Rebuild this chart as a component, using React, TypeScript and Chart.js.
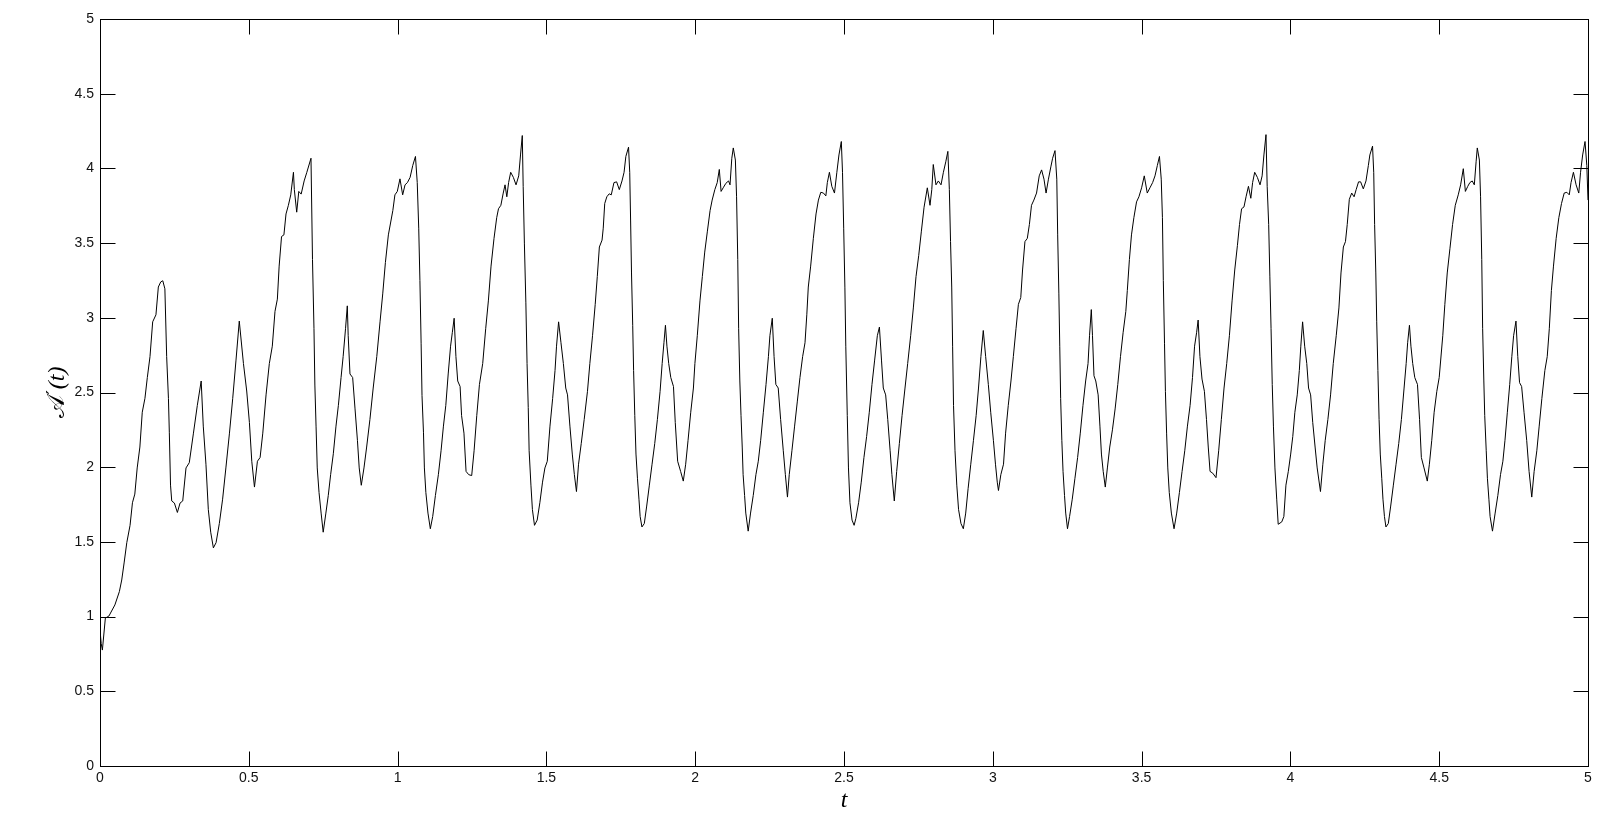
import React, { useEffect, useRef } from "react";
import { Chart, registerables } from "chart.js";

Chart.register(...registerables);

// time axis range and tick values
const tMin = 0;
const tMax = 5;
const aMin = 0;
const aMax = 5;
const tickValues = [0, 0.5, 1, 1.5, 2, 2.5, 3, 3.5, 4, 4.5, 5];

// samples of A'(t): [t, value]
const samples: [number, number][] = [
  [0, 0.91], [0.004, 0.82], [0.008, 0.776], [0.018, 0.99], [0.03, 1.004], [0.05, 1.078], [0.065, 1.167], [0.073, 1.245],
  [0.081, 1.359], [0.09, 1.495], [0.101, 1.611], [0.109, 1.762], [0.117, 1.82], [0.125, 1.995], [0.134, 2.135], [0.142, 2.368],
  [0.151, 2.461], [0.159, 2.6], [0.168, 2.74], [0.177, 2.973], [0.188, 3.02], [0.196, 3.206], [0.204, 3.24], [0.211, 3.248],
  [0.218, 3.194], [0.224, 2.74], [0.23, 2.46], [0.233, 2.23], [0.237, 1.88], [0.241, 1.774], [0.25, 1.76], [0.26, 1.697],
  [0.269, 1.76], [0.278, 1.774], [0.289, 1.995], [0.3, 2.03], [0.314, 2.228], [0.327, 2.414], [0.34, 2.577], [0.347, 2.275],
  [0.356, 2.02], [0.364, 1.716], [0.372, 1.565], [0.381, 1.46], [0.39, 1.495], [0.401, 1.623], [0.412, 1.786], [0.423, 1.995],
  [0.435, 2.228], [0.446, 2.461], [0.457, 2.717], [0.468, 2.978],
  [0.482, 2.694], [0.493, 2.51], [0.502, 2.3], [0.51, 2.04], [0.519, 1.867], [0.529, 2.04], [0.538, 2.065], [0.547, 2.228],
  [0.558, 2.484], [0.569, 2.694], [0.579, 2.81], [0.588, 3.043], [0.596, 3.125], [0.602, 3.346], [0.61, 3.544], [0.618, 3.555],
  [0.625, 3.695], [0.633, 3.753], [0.641, 3.823], [0.65, 3.974], [0.653, 3.858], [0.661, 3.707], [0.668, 3.846], [0.676, 3.828],
  [0.686, 3.916], [0.695, 3.974], [0.709, 4.068], [0.714, 3.39], [0.719, 2.927], [0.722, 2.55], [0.726, 2.275], [0.73, 1.995],
  [0.736, 1.83], [0.743, 1.693], [0.75, 1.565], [0.759, 1.693], [0.767, 1.81], [0.775, 1.95], [0.784, 2.09], [0.793, 2.275],
  [0.801, 2.414], [0.81, 2.6], [0.817, 2.74], [0.825, 2.927], [0.831, 3.08], [0.834, 2.88], [0.84, 2.624], [0.849, 2.6],
  [0.857, 2.39], [0.865, 2.18], [0.871, 1.995], [0.878, 1.879], [0.887, 1.995], [0.896, 2.135], [0.907, 2.32], [0.918, 2.53],
  [0.93, 2.74], [0.941, 2.973], [0.95, 3.16], [0.959, 3.37], [0.969, 3.555],
  [0.984, 3.718], [0.991, 3.823], [0.999, 3.846], [1.008, 3.93], [1.017, 3.823], [1.025, 3.89], [1.033, 3.905], [1.042, 3.94],
  [1.051, 4.02], [1.06, 4.08], [1.066, 3.905], [1.071, 3.6], [1.075, 3.25], [1.079, 2.83], [1.082, 2.48], [1.087, 2.23],
  [1.09, 1.995], [1.095, 1.83], [1.102, 1.693], [1.11, 1.588], [1.118, 1.67], [1.127, 1.81], [1.137, 1.95], [1.146, 2.11],
  [1.154, 2.275], [1.162, 2.414], [1.17, 2.624], [1.178, 2.81], [1.184, 2.903], [1.19, 2.997], [1.196, 2.74], [1.202, 2.577],
  [1.21, 2.54], [1.215, 2.345], [1.223, 2.228], [1.23, 1.972], [1.239, 1.95], [1.249, 1.944], [1.257, 2.11], [1.266, 2.345],
  [1.275, 2.554], [1.286, 2.694], [1.296, 2.927], [1.305, 3.113], [1.314, 3.346], [1.324, 3.532], [1.333, 3.67], [1.339, 3.73],
  [1.347, 3.753], [1.355, 3.835], [1.361, 3.89], [1.367, 3.81], [1.373, 3.905], [1.38, 3.974], [1.389, 3.94], [1.398, 3.89],
  [1.407, 3.95], [1.413, 4.09], [1.419, 4.22], [1.422, 3.88], [1.426, 3.5], [1.431, 3.1], [1.435, 2.694], [1.439, 2.4],
  [1.442, 2.11], [1.448, 1.88], [1.453, 1.716], [1.46, 1.611], [1.469, 1.646],
  [1.478, 1.762], [1.487, 1.9], [1.495, 1.995], [1.503, 2.04], [1.512, 2.275], [1.521, 2.46], [1.529, 2.647], [1.534, 2.81],
  [1.541, 2.973], [1.549, 2.833], [1.557, 2.694], [1.565, 2.53], [1.571, 2.484], [1.579, 2.275], [1.587, 2.088], [1.594, 1.95],
  [1.601, 1.837], [1.608, 2.02], [1.617, 2.158], [1.627, 2.32], [1.638, 2.508], [1.646, 2.694], [1.655, 2.88], [1.664, 3.09],
  [1.671, 3.276], [1.678, 3.474], [1.687, 3.52], [1.691, 3.6], [1.696, 3.765], [1.703, 3.81], [1.711, 3.83], [1.718, 3.823],
  [1.727, 3.905], [1.736, 3.91], [1.745, 3.858], [1.754, 3.916], [1.761, 3.974], [1.767, 4.08], [1.776, 4.142], [1.78, 3.974],
  [1.783, 3.648], [1.786, 3.3], [1.79, 2.95], [1.793, 2.647], [1.797, 2.345], [1.801, 2.088], [1.806, 1.926], [1.811, 1.786],
  [1.815, 1.67], [1.821, 1.6], [1.829, 1.623], [1.837, 1.74], [1.846, 1.88], [1.855, 2.02], [1.864, 2.158], [1.873, 2.32],
  [1.882, 2.508], [1.889, 2.694], [1.895, 2.833], [1.9, 2.95], [1.905, 2.81], [1.911, 2.694], [1.918, 2.6], [1.927, 2.54],
  [1.933, 2.3], [1.941, 2.04], [1.951, 1.972], [1.96, 1.907], [1.968, 2.02], [1.976, 2.18], [1.985, 2.368], [1.994, 2.53],
  [1.999, 2.694], [2.007, 2.88], [2.016, 3.113], [2.024, 3.276], [2.032, 3.44], [2.041, 3.58], [2.05, 3.718], [2.057, 3.788],
  [2.066, 3.858], [2.074, 3.905], [2.081, 3.993], [2.087, 3.846], [2.094, 3.87], [2.103, 3.9], [2.112, 3.916], [2.117, 3.89],
  [2.123, 4.068], [2.128, 4.137], [2.135, 4.056], [2.139, 3.81], [2.143, 3.39], [2.146, 2.927], [2.15, 2.577], [2.154, 2.345],
  [2.158, 2.135], [2.161, 1.95], [2.166, 1.81], [2.17, 1.693], [2.178, 1.572], [2.186, 1.693], [2.195, 1.81], [2.204, 1.95],
  [2.212, 2.04], [2.22, 2.18], [2.229, 2.368], [2.238, 2.554], [2.246, 2.74], [2.251, 2.88], [2.259, 2.997], [2.265, 2.74],
  [2.271, 2.554], [2.279, 2.53], [2.287, 2.32], [2.296, 2.11], [2.303, 1.95], [2.31, 1.8], [2.316, 1.95], [2.325, 2.11],
  [2.334, 2.275], [2.343, 2.437], [2.352, 2.6], [2.361, 2.74], [2.369, 2.833], [2.375, 3.02], [2.38, 3.206], [2.388, 3.346],
  [2.397, 3.532], [2.406, 3.695], [2.414, 3.788], [2.422, 3.84], [2.431, 3.835], [2.439, 3.816], [2.444, 3.905], [2.451, 3.974],
  [2.459, 3.88], [2.468, 3.835], [2.476, 3.974], [2.483, 4.09], [2.491, 4.18], [2.495, 3.974], [2.499, 3.6], [2.503, 3.2],
  [2.506, 2.81], [2.511, 2.345], [2.515, 1.995],
  [2.52, 1.762], [2.527, 1.646], [2.534, 1.611], [2.54, 1.658], [2.549, 1.762], [2.558, 1.9], [2.567, 2.065], [2.576, 2.205],
  [2.585, 2.368], [2.594, 2.554], [2.603, 2.717], [2.612, 2.88], [2.619, 2.938], [2.626, 2.717], [2.632, 2.53], [2.64, 2.484],
  [2.647, 2.32], [2.655, 2.11], [2.661, 1.95], [2.669, 1.774], [2.677, 1.972], [2.686, 2.158], [2.695, 2.345], [2.705, 2.53],
  [2.714, 2.694], [2.724, 2.88], [2.733, 3.066], [2.742, 3.276], [2.751, 3.416], [2.76, 3.58], [2.769, 3.74], [2.78, 3.87],
  [2.789, 3.753], [2.795, 3.858], [2.8, 4.026], [2.809, 3.89], [2.817, 3.916], [2.826, 3.89], [2.834, 3.974], [2.842, 4.044],
  [2.849, 4.114], [2.854, 3.858], [2.858, 3.51], [2.862, 3.206], [2.865, 2.81], [2.868, 2.414], [2.873, 2.11], [2.879, 1.88],
  [2.885, 1.716], [2.893, 1.623], [2.901, 1.588], [2.909, 1.693], [2.917, 1.856], [2.926, 2.02], [2.935, 2.18], [2.944, 2.345],
  [2.952, 2.53], [2.96, 2.74], [2.968, 2.915], [2.976, 2.74], [2.985, 2.554], [2.993, 2.368], [3.002, 2.18], [3.009, 2.02],
  [3.015, 1.9],
  [3.019, 1.844], [3.027, 1.95], [3.036, 2.02], [3.043, 2.228], [3.052, 2.414], [3.061, 2.577], [3.069, 2.74], [3.078, 2.927],
  [3.086, 3.09], [3.094, 3.136], [3.1, 3.32], [3.108, 3.51], [3.116, 3.532], [3.123, 3.625], [3.13, 3.753], [3.138, 3.788],
  [3.147, 3.835], [3.156, 3.95], [3.164, 3.99], [3.172, 3.928], [3.179, 3.835], [3.187, 3.928], [3.195, 4.01], [3.201, 4.068],
  [3.209, 4.119], [3.215, 3.928], [3.218, 3.555], [3.222, 3.16], [3.225, 2.81], [3.228, 2.46], [3.232, 2.18], [3.236, 1.972],
  [3.241, 1.81], [3.245, 1.693], [3.251, 1.588], [3.258, 1.67], [3.267, 1.786], [3.276, 1.926], [3.285, 2.065], [3.294, 2.228],
  [3.303, 2.414], [3.312, 2.577], [3.32, 2.694], [3.325, 2.88], [3.331, 3.055], [3.335, 2.88], [3.34, 2.612], [3.346, 2.577],
  [3.354, 2.484], [3.36, 2.275], [3.365, 2.088], [3.371, 1.972], [3.378, 1.867], [3.385, 1.995], [3.393, 2.135], [3.402, 2.25],
  [3.411, 2.39], [3.42, 2.554], [3.429, 2.74], [3.438, 2.903], [3.447, 3.043], [3.452, 3.183], [3.459, 3.39], [3.466, 3.555],
  [3.474, 3.67], [3.483, 3.776], [3.491, 3.81], [3.5, 3.87],
  [3.509, 3.95], [3.519, 3.835], [3.528, 3.87], [3.537, 3.905], [3.545, 3.95], [3.553, 4.02], [3.56, 4.08], [3.566, 3.928],
  [3.57, 3.67], [3.573, 3.25], [3.577, 2.83], [3.58, 2.508], [3.584, 2.228], [3.588, 1.995], [3.593, 1.83], [3.6, 1.693],
  [3.609, 1.588], [3.618, 1.693], [3.627, 1.83], [3.636, 1.972], [3.645, 2.11], [3.654, 2.275], [3.663, 2.414], [3.671, 2.6],
  [3.678, 2.81], [3.685, 2.903], [3.69, 2.985], [3.696, 2.74], [3.703, 2.59], [3.711, 2.508], [3.718, 2.32], [3.724, 2.135],
  [3.73, 1.972], [3.739, 1.96], [3.75, 1.93], [3.759, 2.11], [3.768, 2.32], [3.777, 2.53], [3.786, 2.694], [3.795, 2.88],
  [3.804, 3.113], [3.813, 3.32], [3.822, 3.485], [3.829, 3.625], [3.836, 3.73], [3.844, 3.742], [3.851, 3.81], [3.859, 3.88],
  [3.867, 3.8], [3.873, 3.905], [3.88, 3.974], [3.889, 3.94], [3.898, 3.89], [3.905, 3.95], [3.911, 4.09], [3.918, 4.226],
  [3.922, 3.88], [3.927, 3.625], [3.931, 3.274], [3.935, 2.927], [3.939, 2.554], [3.943, 2.275], [3.948, 1.995], [3.954, 1.786],
  [3.959, 1.618], [3.971, 1.634], [3.978, 1.67], [3.985, 1.88], [3.993, 1.972], [4.001, 2.088],
  [4.008, 2.205], [4.015, 2.368], [4.023, 2.484], [4.03, 2.647], [4.035, 2.81], [4.041, 2.973], [4.048, 2.81], [4.055, 2.694],
  [4.061, 2.53], [4.068, 2.484], [4.075, 2.3], [4.083, 2.135], [4.09, 1.995], [4.101, 1.837], [4.109, 2.02], [4.117, 2.18],
  [4.126, 2.32], [4.135, 2.484], [4.144, 2.694], [4.154, 2.88], [4.163, 3.066], [4.17, 3.3], [4.178, 3.474], [4.185, 3.51],
  [4.191, 3.625], [4.198, 3.793], [4.206, 3.835], [4.214, 3.81], [4.221, 3.858], [4.229, 3.91], [4.236, 3.91], [4.245, 3.863],
  [4.254, 3.916], [4.262, 4.02], [4.267, 4.09], [4.276, 4.149], [4.28, 3.974], [4.283, 3.625], [4.287, 3.3], [4.29, 2.973],
  [4.294, 2.647], [4.298, 2.32], [4.302, 2.088], [4.307, 1.926], [4.311, 1.786], [4.316, 1.67], [4.321, 1.6], [4.329, 1.623],
  [4.337, 1.74], [4.346, 1.88], [4.355, 2.02], [4.364, 2.158], [4.373, 2.32], [4.382, 2.53], [4.389, 2.694], [4.394, 2.833],
  [4.4, 2.95], [4.405, 2.81], [4.411, 2.694], [4.418, 2.6], [4.427, 2.554], [4.434, 2.32], [4.44, 2.065], [4.449, 1.995],
  [4.46, 1.907], [4.467, 2.02], [4.475, 2.18], [4.483, 2.368], [4.492, 2.508], [4.5, 2.6],
  [4.512, 2.88], [4.519, 3.09], [4.527, 3.3], [4.536, 3.462], [4.545, 3.625], [4.554, 3.753], [4.564, 3.823], [4.572, 3.89],
  [4.581, 3.998], [4.588, 3.846], [4.596, 3.88], [4.603, 3.905], [4.611, 3.916], [4.618, 3.89], [4.624, 4.044], [4.628, 4.137],
  [4.635, 4.056], [4.639, 3.81], [4.643, 3.39], [4.646, 2.927], [4.65, 2.577], [4.653, 2.345], [4.658, 2.11], [4.662, 1.926],
  [4.667, 1.786], [4.671, 1.67], [4.679, 1.572], [4.688, 1.693], [4.697, 1.81], [4.706, 1.95], [4.714, 2.04], [4.721, 2.18],
  [4.729, 2.368], [4.737, 2.554], [4.744, 2.74], [4.75, 2.88], [4.758, 2.978], [4.764, 2.74], [4.77, 2.566], [4.777, 2.54],
  [4.785, 2.368], [4.794, 2.18], [4.802, 1.972], [4.811, 1.8], [4.819, 1.972], [4.828, 2.11], [4.836, 2.275], [4.845, 2.46],
  [4.855, 2.647], [4.863, 2.74], [4.87, 2.927], [4.877, 3.183], [4.884, 3.346], [4.893, 3.532], [4.902, 3.67], [4.911, 3.765],
  [4.92, 3.835], [4.929, 3.84], [4.937, 3.823], [4.943, 3.905], [4.951, 3.974], [4.96, 3.89], [4.969, 3.835], [4.975, 3.974],
  [4.982, 4.09], [4.99, 4.18], [4.996, 4.02], [5.0, 3.788],
];

const xTitle = "t";
// y-axis title pieces: calligraphic A, prime, argument
const yTitleLetter = "\u{1D49C}";
const yTitlePrime = "\u2032";
const yTitleArg = "(t)";

const TICK_LEN = 15;

const matlabBox = {
  id: "matlabBox",
  afterDraw(chart: any) {
    const { ctx, chartArea: a, scales } = chart;
    ctx.save();
    ctx.strokeStyle = "#000";
    ctx.lineWidth = 1;
    const L = Math.round(a.left) + 0.5;
    const R = Math.round(a.right) + 0.5;
    const T = Math.round(a.top) + 0.5;
    const B = Math.round(a.bottom) + 0.5;
    ctx.strokeRect(L, T, R - L, B - T);
    ctx.beginPath();
    for (const v of tickValues) {
      const y = Math.round(scales.y.getPixelForValue(v)) + 0.5;
      ctx.moveTo(L, y);
      ctx.lineTo(L + TICK_LEN, y);
      ctx.moveTo(R, y);
      ctx.lineTo(R - TICK_LEN, y);
      const x = Math.round(scales.x.getPixelForValue(v)) + 0.5;
      ctx.moveTo(x, B);
      ctx.lineTo(x, B - TICK_LEN);
      ctx.moveTo(x, T);
      ctx.lineTo(x, T + TICK_LEN);
    }
    ctx.stroke();

    // y-axis title, rotated, composed of pieces
    const cy = (a.top + a.bottom) / 2;
    ctx.translate(56, cy);
    ctx.rotate(-Math.PI / 2);
    ctx.fillStyle = "#000";
    ctx.textBaseline = "alphabetic";
    ctx.textAlign = "left";
    const fLetter = '24px "DejaVu Sans", "DejaVu Serif", serif';
    const fPrime = '18px "DejaVu Sans", serif';
    const fArg = 'italic 24px "Liberation Serif", "DejaVu Serif", serif';
    ctx.font = fLetter;
    const w1 = ctx.measureText(yTitleLetter).width;
    ctx.font = fPrime;
    const w2 = ctx.measureText(yTitlePrime).width;
    ctx.font = fArg;
    const w3 = ctx.measureText(yTitleArg).width;
    const total = w1 + w2 + w3 + 2;
    let x = -total / 2;
    const base = 8;
    ctx.font = fLetter;
    ctx.fillText(yTitleLetter, x, base);
    x += w1 + 1;
    ctx.font = fPrime;
    ctx.fillText(yTitlePrime, x, base - 5);
    x += w2 + 1;
    ctx.font = fArg;
    ctx.fillText(yTitleArg, x, base);
    ctx.restore();
  },
};

const fmt = (v: number | string) => String(Math.round(Number(v) * 10) / 10);

export default function App() {
  const ref = useRef<HTMLCanvasElement>(null);
  useEffect(() => {
    document.body.style.margin = "0";
    const tickFont = { family: '"Liberation Sans", Arial, sans-serif', size: 14 };
    const chart = new Chart(ref.current!, {
      type: "line",
      data: {
        datasets: [
          {
            data: samples.map(([x, y]) => ({ x, y })),
            borderColor: "#000",
            borderWidth: 1,
            pointRadius: 0,
            tension: 0,
            fill: false,
          },
        ],
      },
      options: {
        animation: false,
        responsive: false,
        devicePixelRatio: 1,
        layout: { padding: { left: 0, right: 32, top: 19, bottom: 0 } },
        plugins: { legend: { display: false }, tooltip: { enabled: false } },
        scales: {
          x: {
            type: "linear",
            min: tMin,
            max: tMax,
            border: { display: false },
            grid: { display: false, drawTicks: false },
            ticks: { stepSize: 0.5, color: "#111", font: tickFont, padding: 4, maxRotation: 0, autoSkip: false, callback: fmt },
            title: {
              display: true,
              text: xTitle,
              color: "#000",
              font: { family: '"Liberation Serif", "DejaVu Serif", serif', style: "italic", size: 24 },
              padding: { top: 0, bottom: 2 },
            },
            afterFit(s: any) {
              s.height = 51;
            },
          },
          y: {
            type: "linear",
            min: aMin,
            max: aMax,
            border: { display: false },
            grid: { display: false, drawTicks: false },
            ticks: { stepSize: 0.5, color: "#111", font: tickFont, padding: 6, autoSkip: false, callback: fmt },
            afterFit(s: any) {
              s.width = 100;
            },
          },
        },
      },
      plugins: [matlabBox],
    });
    return () => chart.destroy();
  }, []);
  return (
    <div style={{ position: "absolute", left: 0, top: 0, width: 1620, height: 817, background: "#fff" }}>
      <canvas ref={ref} width={1620} height={817} style={{ display: "block" }} />
    </div>
  );
}
